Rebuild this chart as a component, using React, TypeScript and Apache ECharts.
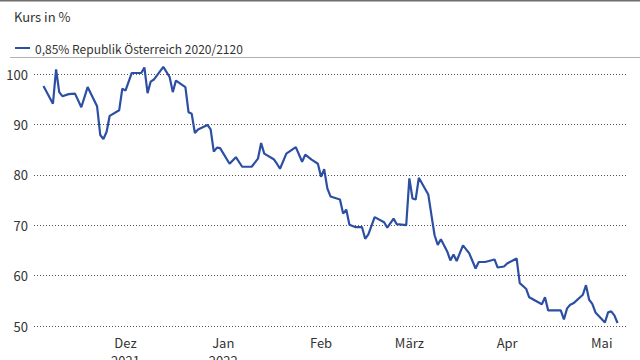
import React, { useEffect, useRef } from "react";
import * as echarts from "echarts";

const seriesName = "0,85% Republik Österreich 2020/2120";
const titleText = "Kurs in %";

const dates = [
  "2021-11-05", "2021-11-08", "2021-11-09", "2021-11-10", "2021-11-11", "2021-11-13", "2021-11-15",
  "2021-11-17", "2021-11-19", "2021-11-22", "2021-11-23", "2021-11-24", "2021-11-25", "2021-11-26",
  "2021-11-29", "2021-11-30", "2021-12-01", "2021-12-03", "2021-12-06", "2021-12-07", "2021-12-08",
  "2021-12-09", "2021-12-10", "2021-12-13", "2021-12-15", "2021-12-16", "2021-12-17", "2021-12-20",
  "2021-12-21", "2021-12-22", "2021-12-23", "2021-12-24", "2021-12-27", "2021-12-28", "2021-12-29",
  "2021-12-30", "2021-12-31", "2022-01-03", "2022-01-05", "2022-01-07", "2022-01-10", "2022-01-12",
  "2022-01-13", "2022-01-14", "2022-01-17", "2022-01-18", "2022-01-19", "2022-01-21", "2022-01-24",
  "2022-01-26", "2022-01-27", "2022-01-29", "2022-01-31", "2022-02-01", "2022-02-02", "2022-02-03",
  "2022-02-04", "2022-02-07", "2022-02-08", "2022-02-09", "2022-02-10", "2022-02-12", "2022-02-14",
  "2022-02-15", "2022-02-16", "2022-02-18", "2022-02-21", "2022-02-22", "2022-02-24", "2022-02-25",
  "2022-02-28", "2022-03-01", "2022-03-02", "2022-03-03", "2022-03-04", "2022-03-07", "2022-03-08",
  "2022-03-09", "2022-03-10", "2022-03-11", "2022-03-13", "2022-03-14", "2022-03-15", "2022-03-16",
  "2022-03-18", "2022-03-20", "2022-03-22", "2022-03-23", "2022-03-25", "2022-03-28", "2022-03-29",
  "2022-03-31", "2022-04-01", "2022-04-04", "2022-04-05", "2022-04-07", "2022-04-08", "2022-04-12",
  "2022-04-13", "2022-04-14", "2022-04-18", "2022-04-19", "2022-04-20", "2022-04-21", "2022-04-22",
  "2022-04-25", "2022-04-26", "2022-04-27", "2022-04-28", "2022-04-29", "2022-05-02", "2022-05-03",
  "2022-05-04", "2022-05-05", "2022-05-06",
];

const values = [
  97.6, 94.1, 100.9, 96.4, 95.6, 96.0, 96.1,
  93.4, 97.4, 93.6, 87.9, 87.1, 88.5, 91.7,
  92.8, 97.1, 96.7, 100.2, 100.2, 101.3, 96.2,
  98.5, 98.9, 101.4, 99.4, 96.4, 98.7, 97.4,
  92.4, 92.1, 88.3, 89.0, 89.9, 89.0, 84.6,
  85.4, 85.3, 82.2, 83.5, 81.6, 81.6, 83.2,
  86.3, 84.2, 83.1, 82.2, 81.2, 84.2, 85.5,
  82.6, 84.0, 83.0, 82.2, 79.6, 81.1, 77.3,
  75.7, 75.1, 72.3, 73.1, 70.1, 69.6, 69.6,
  67.3, 68.2, 71.6, 70.6, 69.5, 71.3, 70.2,
  70.0, 79.3, 75.3, 75.1, 79.4, 76.1, 72.0,
  68.0, 66.1, 67.2, 64.8, 63.0, 64.2, 62.9,
  66.0, 64.4, 61.4, 62.7, 62.7, 63.2, 61.6,
  61.8, 62.4, 63.4, 58.5, 57.4, 55.7, 54.3,
  55.7, 53.1, 53.1, 51.3, 53.5, 54.2, 54.5,
  56.2, 58.1, 55.2, 54.4, 52.7, 50.7, 52.7,
  52.9, 52.1, 50.6,
];

const tickDates = ["2021-12-01", "2022-01-01", "2022-02-01", "2022-03-01", "2022-04-01", "2022-05-01"];
const tickLabels = ["Dez\n2021", "Jan\n2022", "Feb", "März", "Apr", "Mai"];

const axisMin = "2021-11-02";
const axisMax = "2022-05-09";
const yMin = 50;
const yMax = 100;
const yStep = 10;

const FONT = "'Noto Sans CJK SC', 'Liberation Sans', sans-serif";
const LINE_COLOR = "#2c4fa3";
const TEXT_COLOR = "#333333";

const toTs = (s: string) => {
  const [y, m, d] = s.split("-").map(Number);
  return Date.UTC(y, m - 1, d);
};

export default function App() {
  const ref = useRef<HTMLDivElement>(null);

  useEffect(() => {
    if (!ref.current) return;
    const chart = echarts.init(ref.current, null, { renderer: "svg" });
    const tickTs = tickDates.map(toTs);

    chart.setOption({
      animation: false,
      textStyle: { fontFamily: FONT },
      title: {
        text: titleText,
        left: 9,
        top: 5,
        textStyle: { fontFamily: FONT, fontSize: 13, fontWeight: "normal", color: TEXT_COLOR },
      },
      legend: {
        left: 10,
        top: 37,
        icon: "rect",
        itemWidth: 15,
        itemHeight: 2,
        itemGap: 10,
        textStyle: { fontFamily: FONT, fontSize: 12, color: TEXT_COLOR },
        data: [seriesName],
      },
      graphic: [
        { type: "rect", left: 0, top: 0, shape: { width: 640, height: 1.5 }, style: { fill: "#6e6e6e" } },
        { type: "rect", left: 10, top: 57, shape: { width: 630, height: 1 }, style: { fill: "#b0b0b0" } },
      ],
      grid: { left: 34, right: 13, top: 74, bottom: 34, outerBoundsMode: "none", containLabel: false },
      xAxis: {
        type: "value",
        min: toTs(axisMin),
        max: toTs(axisMax),
        axisLine: { show: false },
        axisTick: { show: false },
        splitLine: { show: false },
        axisLabel: {
          customValues: tickTs,
          margin: 7,
          fontFamily: FONT,
          fontSize: 13,
          lineHeight: 18,
          color: TEXT_COLOR,
          verticalAlign: "top",
          formatter: (v: number) => {
            const i = tickTs.findIndex((t) => Math.abs(t - v) < 3600000);
            return i >= 0 ? tickLabels[i] : "";
          },
        },
      },
      yAxis: {
        type: "value",
        min: yMin,
        max: yMax,
        interval: yStep,
        axisLine: { show: false },
        axisTick: { show: false },
        axisLabel: { fontFamily: FONT, fontSize: 13, color: TEXT_COLOR, margin: 6 },
        splitLine: { show: true, lineStyle: { color: "#555555", width: 1, type: [1, 2] } },
      },
      series: [
        {
          name: seriesName,
          type: "line",
          data: dates.map((d, i) => [toTs(d), values[i]]),
          showSymbol: false,
          symbol: "none",
          clip: false,
          color: LINE_COLOR,
          lineStyle: { color: LINE_COLOR, width: 2.2 },
        },
      ],
    });

    return () => chart.dispose();
  }, []);

  return <div ref={ref} style={{ width: 640, height: 360, position: "absolute", left: 0, top: 0 }} />;
}
